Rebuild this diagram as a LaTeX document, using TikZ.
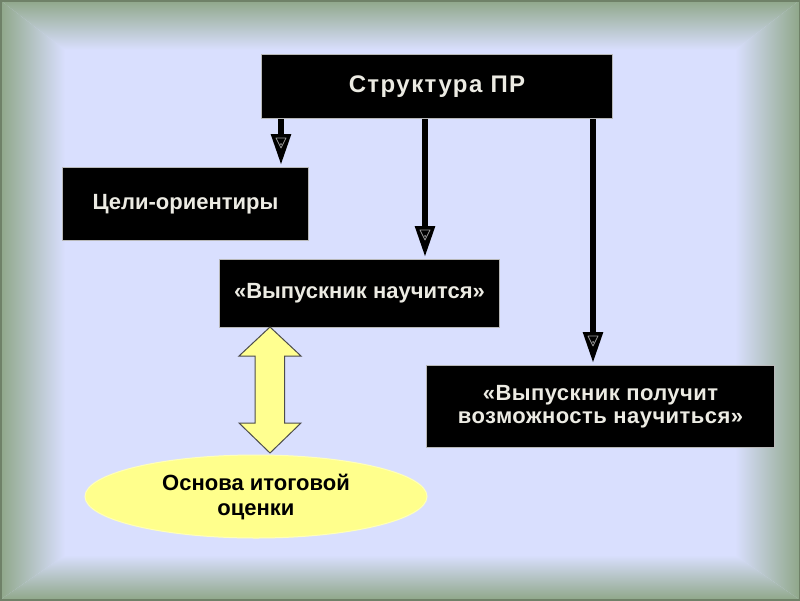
\documentclass[tikz,border=0pt]{standalone}
\usepackage{fontspec}
\setmainfont{Liberation Sans}
\usetikzlibrary{shapes.geometric,arrows.meta,calc}
\definecolor{edgeg}{HTML}{8FA789}
\definecolor{outerg}{HTML}{6F8168}
\definecolor{centerl}{HTML}{D9DFFE}
\definecolor{boxtxt}{HTML}{ECEBE3}
\definecolor{boxline}{HTML}{B8B8B8}
\definecolor{yel}{HTML}{FFFF8C}
\definecolor{yelarrow}{HTML}{FFFF90}
\tikzset{
  blackbox/.style={draw=boxline, line width=1pt, fill=black, text=boxtxt, font=\bfseries\fontsize{22}{24}\selectfont, inner sep=0pt, anchor=north west, align=center},
  shaftarrow/.style={line width=5.5pt, -{Triangle[length=31pt,width=19pt]}, shorten >=2pt},
  headmark/.style={draw=black!40, line width=0.8pt, line join=round},
}
\begin{document}
\begin{tikzpicture}[x=1pt,y=-1pt]
\useasboundingbox (0,0) rectangle (800,600);
% background
\fill[centerl] (0,0) rectangle (800,600);
\shade[top color=edgeg, bottom color=centerl] (0,0) -- (800,0) -- (735,50) -- (65,50) -- cycle;
\shade[top color=centerl, bottom color=edgeg] (65,555) -- (735,555) -- (800,600) -- (0,600) -- cycle;
\shade[left color=edgeg, right color=centerl] (0,0) -- (65,50) -- (65,555) -- (0,600) -- cycle;
\shade[left color=centerl, right color=edgeg] (735,50) -- (800,0) -- (800,600) -- (735,555) -- cycle;
\draw[outerg, line width=3pt] (0,0) rectangle (800,600);
% boxes
\node[blackbox, minimum width=351pt, minimum height=64pt, font=\bfseries\fontsize{24}{26}\addfontfeature{LetterSpace=6}\selectfont] (top) at (261,54) {Структура ПР};
\node[blackbox, minimum width=246pt, minimum height=73pt] (cel) at (62,167) {Цели-ориентиры};
\node[blackbox, minimum width=280pt, minimum height=68pt] (nauch) at (219,259) {«Выпускник научится»};
\node[blackbox, minimum width=348pt, minimum height=82pt, font=\bfseries\fontsize{22}{23}\addfontfeature{LetterSpace=2}\selectfont] (poluch) at (426,365) {«Выпускник получит\\возможность научиться»};
\node[ellipse, fill=yel, draw=yel!60!white, line width=1pt, minimum width=342pt, minimum height=83pt, inner sep=0pt, align=center, font=\bfseries\fontsize{22}{25}\selectfont] (osn) at (256,496.5) {Основа итоговой\\оценки};
% arrow positions
\coordinate (a1) at (281,0);
\coordinate (a2) at (425,0);
\coordinate (a3) at (593,0);
\draw[shaftarrow] (top.south -| a1) -- (cel.north -| a1);
\draw[shaftarrow] (top.south -| a2) -- (nauch.north -| a2);
\draw[shaftarrow] (top.south -| a3) -- (poluch.north -| a3);
% small marks inside heads
\foreach \tg/\ax in {cel/a1, nauch/a2, poluch/a3}{
  \coordinate (tip) at ($(\tg.north -| \ax)+(0,-2)$);
  \draw[headmark] ($(tip)+(-5,-27)$) -- ($(tip)+(5,-27)$) -- ($(tip)+(0,-17)$) -- cycle;
  \fill[black!40] ($(tip)+(0,-21)$) circle (1pt);
}
% double arrow
\coordinate (dtop) at (270,327);
\coordinate (dbot) at (270,453);
\draw[fill=yelarrow, draw=black!70, line width=1pt, line join=miter]
  (dtop) -- ++(31,29) -- ++(-16.5,0) -- ++(0,67) -- ++(16.5,0) -- (dbot)
  -- ++(-31,-30) -- ++(16,0) -- ++(0,-67) -- ++(-16,0) -- cycle;
\end{tikzpicture}
\end{document}
